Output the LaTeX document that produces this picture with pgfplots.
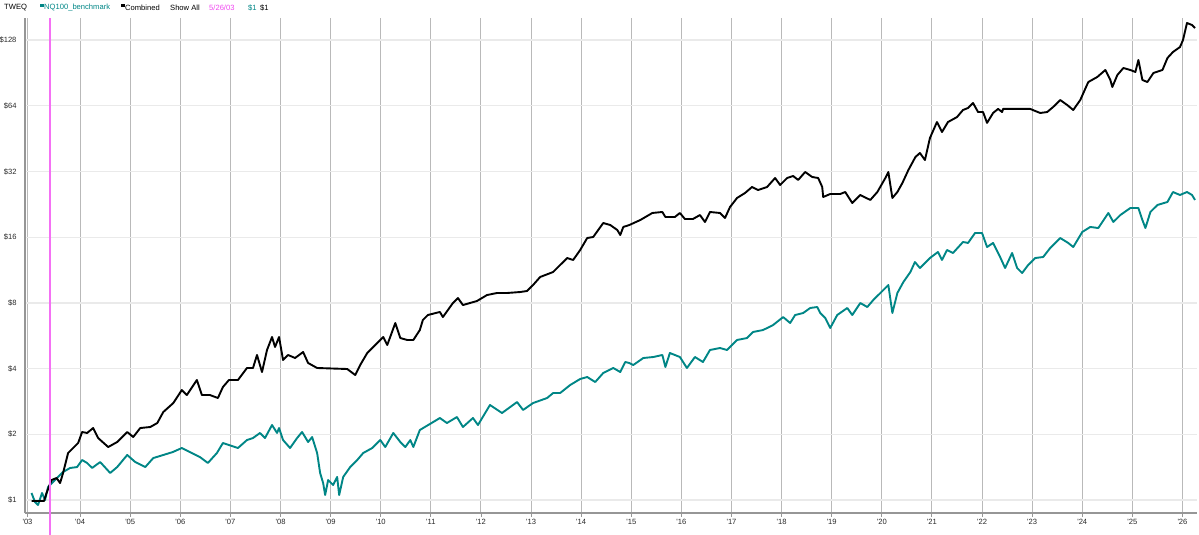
\documentclass[border=0pt]{standalone}
\usepackage{fontspec}
\setmainfont{Liberation Sans}
\usepackage{pgfplots}
\usepackage{pgfplotstable}
\pgfplotsset{compat=1.18}
\definecolor{nqteal}{RGB}{0,134,134}
\definecolor{pinkline}{RGB}{244,112,244}
\definecolor{pinktext}{RGB}{240,70,240}
\definecolor{vgrid}{RGB}{185,185,185}
\definecolor{hgrid}{RGB}{234,234,234}
\definecolor{axisgray}{RGB}{150,150,150}
\definecolor{ticktext}{RGB}{40,40,40}

\pgfplotstableread{
x y
2003.03 0.99
2003.28 0.99
2003.33 1.077
2003.43 1.235
2003.53 1.261
2003.60 1.196
2003.66 1.330
2003.76 1.642
2003.86 1.731
2003.96 1.824
2004.04 2.049
2004.14 2.028
2004.26 2.137
2004.36 1.923
2004.56 1.749
2004.74 1.844
2004.94 2.049
2005.06 1.944
2005.20 2.137
2005.40 2.160
2005.54 2.253
2005.66 2.530
2005.86 2.782
2006.03 3.191
2006.13 3.027
2006.33 3.546
2006.43 3.027
2006.59 3.027
2006.75 2.933
2006.85 3.294
2006.97 3.546
2007.15 3.546
2007.33 4.025
2007.45 4.025
2007.53 4.617
2007.63 3.858
2007.73 4.867
2007.83 5.583
2007.89 5.024
2007.97 5.583
2008.05 4.379
2008.15 4.617
2008.29 4.473
2008.45 4.765
2008.55 4.243
2008.73 4.025
2009.33 3.983
2009.49 3.738
2009.59 4.155
2009.73 4.715
2009.89 5.130
2010.05 5.583
2010.13 5.130
2010.29 6.471
2010.39 5.522
2010.53 5.408
2010.65 5.408
2010.78 6.009
2010.84 6.677
2010.94 7.04
2011.18 7.27
2011.24 6.89
2011.44 7.99
2011.54 8.42
2011.64 7.82
2011.92 8.16
2012.12 8.69
2012.32 8.88
2012.52 8.88
2012.78 8.97
2012.92 9.07
2013.04 9.66
2013.18 10.51
2013.44 11.08
2013.58 11.93
2013.72 12.84
2013.84 12.58
2013.98 13.98
2014.12 15.86
2014.24 16.03
2014.44 18.58
2014.58 18.19
2014.72 17.26
2014.78 16.37
2014.84 17.82
2014.96 18.19
2015.18 19.18
2015.42 20.65
2015.62 20.87
2015.68 19.80
2015.87 19.80
2015.97 20.65
2016.07 19.38
2016.23 19.38
2016.37 20.21
2016.47 18.78
2016.57 20.87
2016.77 20.65
2016.87 19.59
2016.97 21.99
2017.11 24.19
2017.27 25.50
2017.41 27.17
2017.53 26.32
2017.71 27.17
2017.87 29.86
2017.97 27.75
2018.11 29.86
2018.23 30.50
2018.33 29.25
2018.47 31.82
2018.61 30.19
2018.73 29.86
2018.81 27.17
2018.83 24.44
2018.97 25.23
2019.17 25.23
2019.27 25.76
2019.41 22.94
2019.57 24.97
2019.77 23.69
2019.91 25.76
2020.07 29.86
2020.13 31.82
2020.21 24.19
2020.31 25.76
2020.41 28.33
2020.53 32.50
2020.67 37.27
2020.76 38.88
2020.86 36.11
2020.96 45.54
2021.10 53.9
2021.20 48.5
2021.32 53.9
2021.50 56.8
2021.62 61.2
2021.72 62.5
2021.82 65.9
2021.92 59.9
2022.02 59.9
2022.10 53.4
2022.22 59.3
2022.32 61.9
2022.40 59.9
2022.42 61.9
2022.96 61.9
2023.16 59.3
2023.30 59.9
2023.42 63.2
2023.56 68.0
2023.70 64.5
2023.82 61.2
2023.96 68.0
2024.12 82.2
2024.30 86.7
2024.46 93.3
2024.56 84.0
2024.60 78.0
2024.70 88.5
2024.82 95.3
2024.96 93.3
2025.06 91.4
2025.12 103.7
2025.20 84.0
2025.30 82.2
2025.42 90.4
2025.60 93.3
2025.70 105.9
2025.81 112.8
2025.95 118.9
2026.01 128.0
2026.09 153.2
2026.19 150.0
2026.25 145.3
}\combined

\pgfplotstableread{
x y
2003.03 1.077
2003.10 0.979
2003.16 0.949
2003.24 1.077
2003.30 1.000
2003.36 1.147
2003.46 1.209
2003.66 1.344
2003.80 1.402
2003.94 1.416
2004.04 1.525
2004.14 1.478
2004.24 1.402
2004.40 1.493
2004.60 1.330
2004.74 1.416
2004.94 1.608
2005.10 1.493
2005.30 1.416
2005.46 1.557
2005.66 1.608
2005.85 1.659
2006.03 1.731
2006.19 1.659
2006.39 1.574
2006.55 1.478
2006.73 1.642
2006.85 1.824
2006.97 1.786
2007.15 1.731
2007.33 1.883
2007.45 1.923
2007.59 2.028
2007.69 1.923
2007.83 2.206
2007.93 2.028
2007.97 2.137
2008.05 1.883
2008.19 1.731
2008.33 1.923
2008.43 2.049
2008.55 1.844
2008.63 1.944
2008.73 1.642
2008.79 1.330
2008.85 1.196
2008.89 1.054
2008.95 1.235
2009.05 1.171
2009.13 1.275
2009.17 1.054
2009.25 1.275
2009.39 1.416
2009.53 1.525
2009.65 1.642
2009.83 1.731
2009.99 1.883
2010.09 1.749
2010.25 2.028
2010.39 1.844
2010.49 1.749
2010.59 1.883
2010.65 1.749
2010.78 2.093
2010.98 2.229
2011.18 2.375
2011.32 2.253
2011.52 2.400
2011.64 2.160
2011.84 2.375
2011.94 2.206
2012.18 2.725
2012.42 2.504
2012.72 2.811
2012.84 2.585
2013.04 2.782
2013.32 2.933
2013.44 3.092
2013.58 3.092
2013.78 3.364
2013.98 3.585
2014.12 3.660
2014.28 3.472
2014.44 3.818
2014.64 4.025
2014.78 3.858
2014.88 4.288
2014.96 4.243
2015.04 4.155
2015.24 4.473
2015.44 4.520
2015.62 4.617
2015.68 4.067
2015.77 4.715
2015.97 4.520
2016.11 4.025
2016.27 4.520
2016.43 4.288
2016.57 4.867
2016.77 4.970
2016.91 4.867
2017.11 5.408
2017.31 5.522
2017.43 5.885
2017.63 6.009
2017.83 6.334
2018.03 6.89
2018.17 6.471
2018.27 7.04
2018.43 7.19
2018.57 7.58
2018.71 7.66
2018.77 7.19
2018.87 6.82
2018.97 6.14
2019.11 7.04
2019.31 7.58
2019.41 7.04
2019.57 7.99
2019.71 7.66
2019.83 8.25
2020.03 9.16
2020.13 9.66
2020.21 7.19
2020.31 8.88
2020.43 9.97
2020.57 11.08
2020.66 12.31
2020.76 11.56
2020.96 12.84
2021.12 13.68
2021.20 12.58
2021.30 13.98
2021.42 13.54
2021.62 15.21
2021.72 15.05
2021.86 16.72
2022.00 16.72
2022.10 14.42
2022.22 15.05
2022.36 12.98
2022.46 11.56
2022.60 13.54
2022.70 11.56
2022.80 10.96
2022.92 11.93
2023.06 12.84
2023.22 12.98
2023.36 14.27
2023.56 15.86
2023.72 15.05
2023.82 14.42
2024.00 16.90
2024.16 17.82
2024.32 17.62
2024.52 20.65
2024.62 18.78
2024.76 20.21
2024.96 21.77
2025.12 21.77
2025.20 19.18
2025.26 17.62
2025.36 20.87
2025.50 22.47
2025.70 23.19
2025.81 25.76
2025.95 24.97
2026.09 25.76
2026.19 24.97
2026.25 23.69
}\nqbench

\begin{document}
\begin{tikzpicture}[x=1pt,y=1pt]
\begin{axis}[
  at={(25pt,22pt)}, anchor=south west,
  scale only axis, width=1172pt, height=495pt,
  xmin=2002.9, xmax=2026.29,
  ymode=log, log basis y=2, ymin=0.872, ymax=161.5,
  xtick={2002.95,2004,2005,2006,2007,2008,2009,2010,2011,2012,2013,2014,2015,2016,2017,2018,2019,2020,2021,2022,2023,2024,2025,2026},
  xticklabels={{\textquotesingle}03,{\textquotesingle}04,{\textquotesingle}05,{\textquotesingle}06,{\textquotesingle}07,{\textquotesingle}08,{\textquotesingle}09,{\textquotesingle}10,{\textquotesingle}11,{\textquotesingle}12,{\textquotesingle}13,{\textquotesingle}14,{\textquotesingle}15,{\textquotesingle}16,{\textquotesingle}17,{\textquotesingle}18,{\textquotesingle}19,{\textquotesingle}20,{\textquotesingle}21,{\textquotesingle}22,{\textquotesingle}23,{\textquotesingle}24,{\textquotesingle}25,{\textquotesingle}26},
  ytick={1,2,4,8,16,32,64,128},
  yticklabels={\$1,\$2,\$4,\$8,\$16,\$32,\$64,\$128},
  xmajorgrids, ymajorgrids,
  x grid style={vgrid, line width=1pt},
  y grid style={hgrid, line width=1.3pt},
  axis x line*=bottom, axis y line*=left,
  axis line style={axisgray, line width=1.1pt},
  tick align=outside, major tick length=4pt,
  xtick style={axisgray, line width=0.9pt},
  ytick style={draw=none},
  ticklabel style={font=\fontsize{7.6}{8}\selectfont, text=ticktext},
  xticklabel style={yshift=1pt},
  yticklabel style={xshift=-1pt},
  clip=false,
]
\addplot[nqteal, line width=1.9pt, line join=round] table[x=x,y=y]{\nqbench};
\addplot[black, line width=1.9pt, line join=round] table[x=x,y=y]{\combined};
\addplot[pinkline, line width=1.8pt] coordinates {(2003.40,0.69) (2003.40,161.5)};
\end{axis}
\fill[nqteal] (40,527.5) rectangle (43.5,531);
\fill[black] (121,527.5) rectangle (124.5,531);
\begin{scope}[every node/.style={anchor=west, inner sep=0pt, font=\fontsize{7.6}{8}\selectfont}]
\node at (4,527.5) {TWEQ};
\node[text=nqteal] at (44,527.5) {NQ100\_benchmark};
\node at (125,527.5) {Combined};
\node at (170,527.5) {Show All};
\node[text=pinktext] at (209,527.5) {5/26/03};
\node[text=nqteal] at (248,527.5) {\$1};
\node at (260,527.5) {\$1};
\end{scope}
\pgfresetboundingbox
\path (0,0) rectangle (1199,535);
\end{tikzpicture}
\end{document}
